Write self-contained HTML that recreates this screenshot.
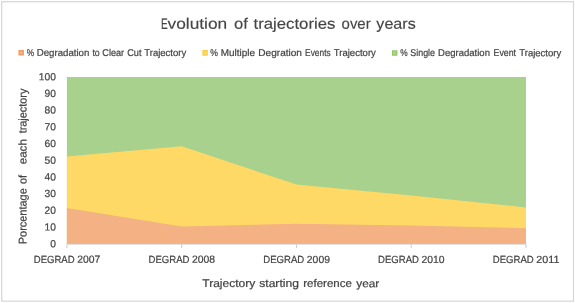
<!DOCTYPE html>
<html><head><meta charset="utf-8"><title>Evolution of trajectories over years</title>
<style>
html,body{margin:0;padding:0;background:#fff;}
body{width:575px;height:303px;overflow:hidden;}
svg{display:block;}
text{font-family:"Liberation Sans",sans-serif;fill:#444;stroke:#444;stroke-width:0.22px;}
</style></head><body>
<svg width="575" height="303" viewBox="0 0 575 303">
<rect x="0" y="0" width="575" height="303" fill="#fff"/>
<rect x="1.7" y="1.7" width="571.8" height="299.5" fill="#fff" stroke="#d6d6d6" stroke-width="1.2"/>

<polygon points="66.90,77.00 181.68,77.00 296.45,77.00 411.23,77.00 526.00,77.00 526.00,244.00 411.23,244.00 296.45,244.00 181.68,244.00 66.90,244.00" fill="#a9d18e"/>
<polygon points="66.90,156.50 181.68,146.20 296.45,184.60 411.23,195.40 526.00,207.50 526.00,244.00 411.23,244.00 296.45,244.00 181.68,244.00 66.90,244.00" fill="#ffd966"/>
<polygon points="66.90,207.90 181.68,226.40 296.45,223.80 411.23,225.60 526.00,228.20 526.00,244.00 411.23,244.00 296.45,244.00 181.68,244.00 66.90,244.00" fill="#f4b183"/>
<line x1="66.90" y1="244.40" x2="526.00" y2="244.40" stroke="#d9d9d9" stroke-width="0.9"/>
<line x1="66.90" y1="244.40" x2="66.90" y2="248.00" stroke="#c4c4c4" stroke-width="0.9"/>
<line x1="181.68" y1="244.40" x2="181.68" y2="248.00" stroke="#c4c4c4" stroke-width="0.9"/>
<line x1="296.45" y1="244.40" x2="296.45" y2="248.00" stroke="#c4c4c4" stroke-width="0.9"/>
<line x1="411.23" y1="244.40" x2="411.23" y2="248.00" stroke="#c4c4c4" stroke-width="0.9"/>
<line x1="526.00" y1="244.40" x2="526.00" y2="248.00" stroke="#c4c4c4" stroke-width="0.9"/>
<g transform="rotate(0.03 287 150)">
<text y="28.8" font-size="15.1" style="stroke-width:0.15px"><tspan x="161.0" textLength="6.7" lengthAdjust="spacingAndGlyphs">E</tspan><tspan x="167.5" textLength="59.6" lengthAdjust="spacingAndGlyphs">volution</tspan> <tspan x="234.0" textLength="13.8" lengthAdjust="spacingAndGlyphs">of</tspan> <tspan x="253.5" textLength="81.8" lengthAdjust="spacingAndGlyphs">trajectories</tspan> <tspan x="341.5" textLength="29.1" lengthAdjust="spacingAndGlyphs">over</tspan> <tspan x="376.3" textLength="39.4" lengthAdjust="spacingAndGlyphs">years</tspan></text>
<rect x="18.4" y="50.1" width="5.5" height="5.6" fill="#f19a5f"/><rect x="19.6" y="51.3" width="3.1" height="3.2" fill="#f4b183"/>
<text y="56.0" font-size="9.8"><tspan x="26.8" textLength="7.4" lengthAdjust="spacingAndGlyphs">%</tspan> <tspan x="36.7" textLength="52.6" lengthAdjust="spacingAndGlyphs">Degradation</tspan> <tspan x="92.4" textLength="7.3" lengthAdjust="spacingAndGlyphs">to</tspan> <tspan x="102.3" textLength="21.8" lengthAdjust="spacingAndGlyphs">Clear</tspan> <tspan x="127.2" textLength="14.3" lengthAdjust="spacingAndGlyphs">Cut</tspan> <tspan x="144.2" textLength="42.0" lengthAdjust="spacingAndGlyphs">Trajectory</tspan></text>
<rect x="202.3" y="50.1" width="5.5" height="5.6" fill="#ffce42"/><rect x="203.5" y="51.3" width="3.1" height="3.2" fill="#ffd966"/>
<text y="56.0" font-size="9.8"><tspan x="210.2" textLength="7.7" lengthAdjust="spacingAndGlyphs">%</tspan> <tspan x="220.6" textLength="34.3" lengthAdjust="spacingAndGlyphs">Multiple</tspan> <tspan x="258.3" textLength="43.6" lengthAdjust="spacingAndGlyphs">Degration</tspan> <tspan x="305.0" textLength="25.6" lengthAdjust="spacingAndGlyphs">Events</tspan> <tspan x="333.7" textLength="42.1" lengthAdjust="spacingAndGlyphs">Trajectory</tspan></text>
<rect x="391.9" y="50.1" width="5.5" height="5.6" fill="#90c769"/><rect x="393.1" y="51.3" width="3.1" height="3.2" fill="#a9d18e"/>
<text y="56.0" font-size="9.8"><tspan x="400.3" textLength="7.4" lengthAdjust="spacingAndGlyphs">%</tspan> <tspan x="410.2" textLength="24.8" lengthAdjust="spacingAndGlyphs">Single</tspan> <tspan x="438.0" textLength="51.9" lengthAdjust="spacingAndGlyphs">Degradation</tspan> <tspan x="493.5" textLength="22.5" lengthAdjust="spacingAndGlyphs">Event</tspan> <tspan x="519.2" textLength="42.0" lengthAdjust="spacingAndGlyphs">Trajectory</tspan></text>
<text x="50.2" y="247.30" font-size="10.3" textLength="5.7" lengthAdjust="spacingAndGlyphs">0</text>
<text x="44.5" y="230.60" font-size="10.3" textLength="11.4" lengthAdjust="spacingAndGlyphs">10</text>
<text x="44.5" y="213.90" font-size="10.3" textLength="11.4" lengthAdjust="spacingAndGlyphs">20</text>
<text x="44.5" y="197.20" font-size="10.3" textLength="11.4" lengthAdjust="spacingAndGlyphs">30</text>
<text x="44.5" y="180.50" font-size="10.3" textLength="11.4" lengthAdjust="spacingAndGlyphs">40</text>
<text x="44.5" y="163.80" font-size="10.3" textLength="11.4" lengthAdjust="spacingAndGlyphs">50</text>
<text x="44.5" y="147.10" font-size="10.3" textLength="11.4" lengthAdjust="spacingAndGlyphs">60</text>
<text x="44.5" y="130.40" font-size="10.3" textLength="11.4" lengthAdjust="spacingAndGlyphs">70</text>
<text x="44.5" y="113.70" font-size="10.3" textLength="11.4" lengthAdjust="spacingAndGlyphs">80</text>
<text x="44.5" y="97.00" font-size="10.3" textLength="11.4" lengthAdjust="spacingAndGlyphs">90</text>
<text x="38.8" y="80.30" font-size="10.3" textLength="17.1" lengthAdjust="spacingAndGlyphs">100</text>
<text y="262.9" font-size="10.4"><tspan x="33.8" textLength="40.9" lengthAdjust="spacingAndGlyphs">DEGRAD</tspan> <tspan x="77.3" textLength="23.1" lengthAdjust="spacingAndGlyphs">2007</tspan></text>
<text y="262.9" font-size="10.4"><tspan x="148.6" textLength="40.9" lengthAdjust="spacingAndGlyphs">DEGRAD</tspan> <tspan x="192.1" textLength="23.1" lengthAdjust="spacingAndGlyphs">2008</tspan></text>
<text y="262.9" font-size="10.4"><tspan x="263.4" textLength="40.9" lengthAdjust="spacingAndGlyphs">DEGRAD</tspan> <tspan x="306.9" textLength="23.1" lengthAdjust="spacingAndGlyphs">2009</tspan></text>
<text y="262.9" font-size="10.4"><tspan x="378.1" textLength="40.9" lengthAdjust="spacingAndGlyphs">DEGRAD</tspan> <tspan x="421.6" textLength="23.1" lengthAdjust="spacingAndGlyphs">2010</tspan></text>
<text y="262.9" font-size="10.4"><tspan x="492.9" textLength="40.9" lengthAdjust="spacingAndGlyphs">DEGRAD</tspan> <tspan x="536.4" textLength="23.1" lengthAdjust="spacingAndGlyphs">2011</tspan></text>
<text y="287.1" font-size="11.2"><tspan x="202.3" textLength="53.1" lengthAdjust="spacingAndGlyphs">Trajectory</tspan> <tspan x="259.3" textLength="39.7" lengthAdjust="spacingAndGlyphs">starting</tspan> <tspan x="303.3" textLength="48.7" lengthAdjust="spacingAndGlyphs">reference</tspan> <tspan x="356.3" textLength="23.0" lengthAdjust="spacingAndGlyphs">year</tspan></text>
<text y="0.0" font-size="11.2" transform="translate(26.6,244.4) rotate(-90)"><tspan x="0.0" textLength="56.0" lengthAdjust="spacingAndGlyphs">Porcentage</tspan> <tspan x="60.3" textLength="9.1" lengthAdjust="spacingAndGlyphs">of</tspan> <tspan x="80.0" textLength="25.1" lengthAdjust="spacingAndGlyphs">each</tspan> <tspan x="110.9" textLength="44.7" lengthAdjust="spacingAndGlyphs">trajectory</tspan></text>
</g>
</svg></body></html>
